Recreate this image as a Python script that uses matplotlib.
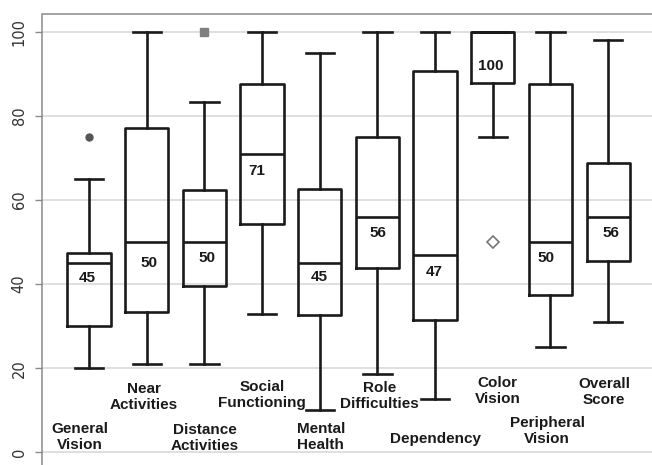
import matplotlib
matplotlib.use("Agg")
import matplotlib.pyplot as plt

categories = ["General\nVision", "Near\nActivities", "Distance\nActivities", "Social\nFunctioning",
              "Mental\nHealth", "Role\nDifficulties", "Dependency", "Color\nVision",
              "Peripheral\nVision", "Overall\nScore"]
whislo = [20, 21, 21, 33, 10, 18.7, 12.7, 75, 25, 31]
q1 = [30, 33.3, 39.6, 54.4, 32.6, 43.9, 31.4, 87.7, 37.5, 45.5]
med = [45, 50, 50, 71, 45, 56, 47, 100, 50, 56]
q3 = [47.3, 77.2, 62.4, 87.5, 62.5, 75, 90.6, 100, 87.5, 68.8]
whishi = [65, 100, 83.3, 100, 95, 100, 100, 100, 100, 98]
outliers = [[75], [], [100], [], [], [], [], [50], [], []]
median_labels = ["45", "50", "50", "71", "45", "56", "47", "100", "50", "56"]

# layout only
lab_dx = [-0.165, -0.05, 0.0, 0.0, 0.02, 0.035, 0.0, 0.087, -0.06, -0.07]
lab_y = [3.6, 13.1, 3.4, 13.6, 3.6, 13.4, 3.2, 14.6, 5.1, 14.3]
mlab_dy_px = [15, 21, 16, 17, 14, 16, 17, 34, 16, 16]
mlab_dx_px = [-2, 2, 3, -5, 0, 0, -1, -2, -4, 3]
flier_style = [dict(marker='o', mfc='#555555', mec='#555555', ms=5),
               None,
               dict(marker='s', mfc='#808080', mec='#808080', ms=6),
               None, None, None, None,
               dict(marker='D', mfc='white', mec='#777777', ms=6, mew=1.2),
               None, None]

fig = plt.figure(figsize=(6.52, 4.65), dpi=100)
ax = fig.add_axes([42/652, 0, 1 - 42/652, 1 - 14.5/465])

positions = list(range(1, len(categories) + 1))
stats = []
for i in range(len(categories)):
    stats.append(dict(med=med[i], q1=q1[i], q3=q3[i], whislo=whislo[i], whishi=whishi[i],
                      fliers=outliers[i], label=categories[i]))

lw = 1.9
col = '#1a1a1a'
res = ax.bxp(stats, positions=positions, widths=0.75, capwidths=0.49, patch_artist=False,
             boxprops=dict(color=col, linewidth=lw),
             whiskerprops=dict(color=col, linewidth=lw),
             capprops=dict(color=col, linewidth=lw),
             medianprops=dict(color=col, linewidth=lw),
             flierprops=dict(marker='o', linestyle='none'), zorder=3)
for fl, st in zip(res['fliers'], flier_style):
    if st:
        fl.set(**st)

ax.set_ylim(-3.0, 104.1)
ax.set_xlim(0.185, 10.76)
ax.set_yticks([0, 20, 40, 60, 80, 100])
ax.set_xticks([])
ax.yaxis.grid(True, color='#d6d6d6', linewidth=1.1, zorder=0)
ax.set_axisbelow(True)
for s in ['right', 'bottom']:
    ax.spines[s].set_visible(False)
for s in ['left', 'top']:
    ax.spines[s].set_color('#8a8a8a')
    ax.spines[s].set_linewidth(1.1)
ax.tick_params(axis='y', length=5, color='#8a8a8a', width=1, pad=6,
               labelsize=10.5, labelcolor='#333333')
for t in ax.get_yticklabels():
    t.set_rotation(90)
    t.set_va('center')

for i, p in enumerate(positions):
    ax.annotate(median_labels[i], xy=(p, med[i]),
                xytext=(mlab_dx_px[i] * 0.72, -mlab_dy_px[i] * 0.72), textcoords='offset points',
                ha='center', va='center', fontsize=11, fontweight='bold',
                family='Liberation Sans', color='#1a1a1a', zorder=4)
    ax.text(p + lab_dx[i], lab_y[i], categories[i], ha='center', va='center',
            fontsize=11, fontweight='bold', family='Liberation Sans', color='#1a1a1a',
            linespacing=1.2, zorder=4)

fig.savefig("out.png", dpi=100)
